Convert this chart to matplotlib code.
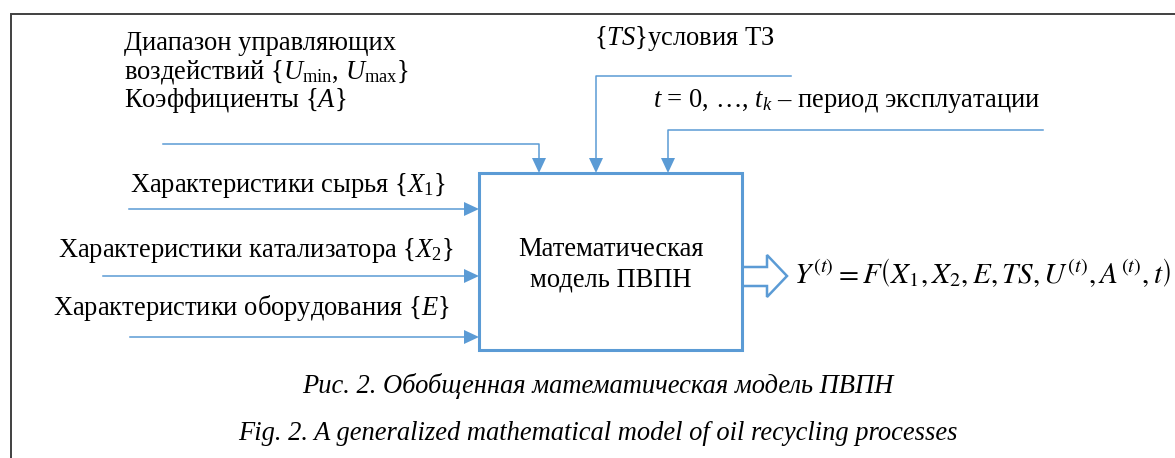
import matplotlib
matplotlib.use('Agg')
import matplotlib.pyplot as plt
from matplotlib.patches import Polygon, Rectangle

# Texts of the diagram
control_labels = ['Диапазон управляющих',
                  'воздействий {$U_{\\mathrm{min}}$, $U_{\\mathrm{max}}$}',
                  'Коэффициенты {$A$}']
ts_label = '{$TS$}условия ТЗ'
time_label = '$t$ = 0, …, $t_k$ – период эксплуатации'
input_labels = ['Характеристики сырья {$X_1$}',
                'Характеристики катализатора {$X_2$}',
                'Характеристики оборудования {$E$}']
box_label = 'Математическая\nмодель ПВПН'
formula = r'$Y^{(t)} = F\left(X_1, X_2, E, TS, U^{(t)}, A^{(t)}, t\right)$'
captions = ['Рис. 2. Обобщенная математическая модель ПВПН',
            'Fig. 2. A generalized mathematical model of oil recycling processes']

plt.rcParams['font.family'] = ['Liberation Serif', 'DejaVu Serif']
plt.rcParams['mathtext.fontset'] = 'custom'
plt.rcParams['mathtext.rm'] = 'Liberation Serif'
plt.rcParams['mathtext.it'] = 'Liberation Serif:italic'

blue = '#5B9BD5'
fs = 19.1

fig = plt.figure(figsize=(11.75, 4.58), dpi=100)
ax = fig.add_axes([0, 0, 1, 1])
ax.set_xlim(0, 1175)
ax.set_ylim(458, 0)
ax.axis('off')

# outer frame (cut at right and bottom)
ax.plot([10.5, 10.5, 1175], [458, 13.5, 13.5], color='#404040', lw=1.4,
        solid_joinstyle='miter')


def head(x, y, d, L=15, W=14):
    # filled triangle, tip at (x, y); d = 'down' or 'right'
    if d == 'down':
        pts = [(x, y), (x - W / 2, y - L), (x + W / 2, y - L)]
    else:
        pts = [(x, y), (x - L, y - W / 2), (x - L, y + W / 2)]
    ax.add_patch(Polygon(pts, closed=True, color=blue, lw=0))


# main box
bx0, by0, bx1, by1 = 479, 173, 742, 350
ax.add_patch(Rectangle((bx0, by0), bx1 - bx0, by1 - by0, fill=False,
                       edgecolor=blue, lw=2.2, zorder=3))

# inputs from the top
top_paths = [([163, 539, 539], [143.5, 143.5, by0 - 14]),
             ([791, 596, 596], [76, 76, by0 - 14]),
             ([1043, 668, 668], [130, 130, by0 - 14])]
for xs, ys in top_paths:
    ax.plot(xs, ys, color=blue, lw=1.1)
    head(xs[-1], by0, 'down')

# inputs from the left
left_y = [209, 276, 337]
left_x = [129, 103, 130]
for x0, y in zip(left_x, left_y):
    ax.plot([x0, bx0 - 14], [y, y], color=blue, lw=1.1)
    head(bx0, y, 'right')

# hollow output arrow
out = [(bx1, 267), (767, 267), (767, 255), (787, 276),
       (767, 297), (767, 286), (bx1, 286)]
ax.add_patch(Polygon(out, closed=False, facecolor='white', edgecolor=blue,
                     lw=1.8, joinstyle='miter'))

# labels
for txt, yb in zip(control_labels, [50, 78.5, 107]):
    ax.text(124, yb, txt, fontsize=fs, va='baseline', ha='left')
ax.text(594, 45, ts_label, fontsize=fs, va='baseline', ha='left')
ax.text(653, 107, time_label, fontsize=fs, va='baseline', ha='left')
for txt, x, yb in zip(input_labels, [130, 58, 53], [192, 257, 315]):
    ax.text(x, yb, txt, fontsize=fs, va='baseline', ha='left')

ax.text(610.5, 256, box_label.split('\n')[0], fontsize=fs, va='baseline', ha='center')
ax.text(610.5, 287, box_label.split('\n')[1], fontsize=fs, va='baseline', ha='center')

ax.text(794, 283, formula, fontsize=21, va='baseline', ha='left',
        math_fontfamily='stix')

for txt, yb in zip(captions, [393, 440]):
    ax.text(598, yb, txt, fontsize=fs, style='italic', va='baseline', ha='center')

fig.savefig('out.png', dpi=100)
